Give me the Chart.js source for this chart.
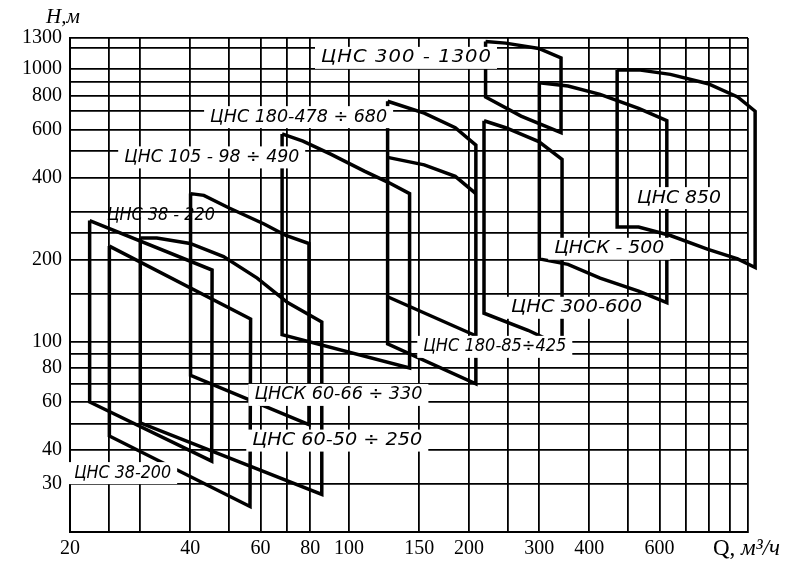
<!DOCTYPE html>
<html>
<head>
<meta charset="utf-8">
<script src="https://cdn.jsdelivr.net/npm/chart.js@4"></script>
<style>
  body { margin: 0; background: #fff; }
  #wrap { width: 800px; height: 562px; }
</style>
</head>
<body>
<div id="wrap"><canvas id="chart1"></canvas></div>
<script>
// grid and tick values (Q, m3/h and H, m)
const xGrid = [20, 25, 30, 40, 50, 60, 70, 80, 100, 150, 200, 250, 300, 400, 500, 600, 700, 800, 900, 1000];
const xLabeled = [20, 40, 60, 80, 100, 150, 200, 300, 400, 600];
const yGrid = [20, 30, 40, 50, 60, 70, 80, 90, 100, 150, 200, 250, 300, 400, 500, 600, 700, 800, 900, 1000, 1200, 1300];
const yLabeled = [30, 40, 60, 80, 100, 200, 400, 600, 800, 1000, 1300];

// pump working fields, outlines as [Q, H]
const cns38_220 = [[22.4, 278], [45.4, 183], [45.3, 36.4], [22.4, 60], [22.4, 278]];
const cns38_200 = [[25.1, 224], [56.7, 121], [56.5, 24.8], [25.1, 45], [25.1, 224]];
const cns60_50 = [[30, 240], [33, 240], [40, 229], [48.5, 205], [58.9, 171], [70.2, 139], [85.5, 118], [85.5, 27.5], [30, 50.3], [30, 240]];
const cnsk60_66 = [[40.1, 349], [43.3, 344], [50.1, 309], [61.3, 270], [69.5, 245], [79.4, 229], [79.4, 49.6], [40.1, 75.1], [40.1, 349]];
const cns105_98 = [[68, 578], [76.7, 544], [90, 487], [109.3, 422], [125.4, 384], [141.9, 349], [141.9, 80], [68, 106], [68, 578]];
const cns180 = [[125, 762], [154.4, 689], [184.7, 609], [208, 526], [208, 70], [125, 98], [125, 762]];
const cns180_upperLow = [[125, 474], [154.4, 445], [184.7, 404], [208, 349]];
const cns180_lowerTop = [[125, 146], [208, 105]];
const cns300_1300 = [[220, 1262], [247, 1245], [299, 1190], [340, 1098], [340, 584], [270, 672], [220, 790], [220, 1262]];
const cns300_600 = [[218, 646], [247, 609], [299, 542], [342, 466], [342, 96], [281, 110], [218, 127], [218, 646]];
const cnsk500 = [[300, 891], [354, 867], [426, 807], [532, 717], [626, 646], [626, 139], [532, 153], [426, 171], [354, 192], [300, 201], [300, 891]];
const cns850 = [[470, 993], [532, 993], [639, 956], [794, 883], [942, 790], [1042, 700], [1042, 187], [942, 201], [794, 218], [639, 245], [532, 263], [470, 263], [470, 993]];

const fields = [cns38_220, cns38_200, cns60_50, cnsk60_66, cns105_98, cns180, cns180_upperLow, cns180_lowerTop,
                cns300_1300, cns300_600, cnsk500, cns850];

// labels and where they sit
const pumpLabels = ['ЦНС 300 - 1300', 'ЦНС 180-478 ÷ 680', 'ЦНС 105 - 98 ÷ 490', 'ЦНС 38 - 220', 'ЦНСК 60-66 ÷ 330',
                    'ЦНС 60-50 ÷ 250', 'ЦНС 38-200', 'ЦНС 180-85÷425', 'ЦНС 300-600', 'ЦНСК - 500', 'ЦНС 850'];
const labelQ = [139, 74.8, 45.3, 33.8, 94.1, 93.5, 27.1, 232, 372, 449, 672];
const labelH = [1099, 666, 474, 290, 63.7, 43.3, 32.9, 95.6, 133, 219, 336];
const labelWidth = [170, 177, 175, 108, 168, 170, 97, 143, 131, 110, 84];

const labelPlugin = {
    id: 'pumpLabels',
    afterDatasetsDraw(chart) {
        let ctx = chart.ctx;
        let x = chart.scales.x, y = chart.scales.y;
        ctx.save();
        ctx.textBaseline = 'middle';
        pumpLabels.forEach((t, i) => {
            let px = x.getPixelForValue(labelQ[i]);
            let py = y.getPixelForValue(labelH[i]);
            let tw = labelWidth[i];
            ctx.font = 'italic 17px "DejaVu Sans"';
            ctx.letterSpacing = '0px';
            let w = ctx.measureText(t).width;
            if (i !== 3) {
                ctx.fillStyle = '#fff';
                ctx.fillRect(px - tw / 2 - 6, py - 11, tw + 12, 22);
            }
            ctx.fillStyle = '#000';
            ctx.textAlign = 'left';
            ctx.save();
            ctx.translate(px - tw / 2, py);
            // hand lettering is wide: stretch a bit, then space out the rest
            let s = Math.min(tw / w, 1.15);
            ctx.scale(s, 1);
            if (tw > w * s) {
                ctx.letterSpacing = ((tw - w * s) / s / (t.length - 1)).toFixed(2) + 'px';
            }
            ctx.fillText(t, 0, 0);
            ctx.restore();
        });

        // axis names
        ctx.letterSpacing = '0px';
        ctx.textAlign = 'left';
        ctx.font = 'italic 21px "Liberation Serif"';
        ctx.fillText('H,м', 46, 17);
        ctx.font = '23px "Liberation Serif"';
        ctx.fillText('Q,', 713, 549);
        let qw = ctx.measureText('Q, ').width;
        ctx.font = 'italic 23px "Liberation Serif"';
        ctx.fillText('м³/ч', 713 + qw, 549);
        ctx.restore();
    }
};

let chart1 = document.getElementById('chart1').getContext('2d');

let pumpChart = new Chart(chart1, {
    type: 'scatter',
    data: {
        datasets: fields.map(f => ({
            data: f.map(p => ({x: p[0], y: p[1]})),
            showLine: true,
            borderColor: '#000',
            borderWidth: 3.5,
            pointRadius: 0,
            tension: 0,
            clip: false
        }))
    },
    options: {
        responsive: true,
        maintainAspectRatio: false,
        animation: false,
        layout: { padding: { top: 38, right: 52, left: 0, bottom: 0 } },
        plugins: { legend: { display: false }, tooltip: { enabled: false } },
        scales: {
            x: {
                type: 'logarithmic',
                min: 20,
                max: 1000,
                afterBuildTicks: s => { s.ticks = xGrid.map(v => ({value: v})); },
                afterFit: s => { s.height = 30; },
                grid: { color: '#000', lineWidth: 1.8, drawTicks: false },
                border: { color: '#000', width: 2 },
                ticks: {
                    autoSkip: false,
                    maxRotation: 0,
                    padding: 5,
                    color: '#000',
                    font: { family: 'Liberation Serif', size: 20 },
                    callback: v => xLabeled.includes(v) ? String(v) : ''
                }
            },
            y: {
                type: 'logarithmic',
                min: 20,
                max: 1300,
                afterBuildTicks: s => { s.ticks = yGrid.map(v => ({value: v})); },
                afterFit: s => { s.width = 70; },
                grid: { color: '#000', lineWidth: 1.8, drawTicks: false },
                border: { color: '#000', width: 2 },
                ticks: {
                    autoSkip: false,
                    padding: 8,
                    color: '#000',
                    font: { family: 'Liberation Serif', size: 20 },
                    callback: v => yLabeled.includes(v) ? String(v) : ''
                }
            }
        }
    },
    plugins: [labelPlugin]
});
</script>
</body>
</html>
